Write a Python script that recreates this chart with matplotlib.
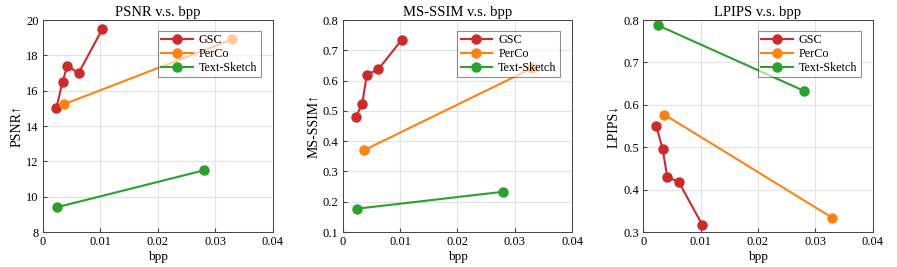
import numpy as np
import matplotlib
matplotlib.use('Agg')
import matplotlib.pyplot as plt

plt.rcParams['font.family'] = ['Liberation Serif', 'DejaVu Serif']

# dados
gsc_bpp = [0.0023, 0.0034, 0.0042, 0.0062, 0.0103]
gsc_psnr = [15.0, 16.5, 17.4, 17.0, 19.47]
gsc_msssim = [0.480, 0.523, 0.619, 0.637, 0.735]
gsc_lpips = [0.550, 0.495, 0.430, 0.418, 0.317]

perco_bpp = [0.0037, 0.0329]
perco_psnr = [15.24, 18.9]
perco_msssim = [0.370, 0.640]
perco_lpips = [0.577, 0.334]

ts_bpp = [0.0025, 0.0280]
ts_psnr = [9.41, 11.49]
ts_msssim = [0.177, 0.233]
ts_lpips = [0.788, 0.633]

metricas = ['PSNR', 'MS-SSIM', 'LPIPS']
ylabels = ['PSNR↑', 'MS-SSIM↑', 'LPIPS↓']
ylims = [(8, 20), (0.1, 0.8), (0.3, 0.8)]
yticks = [np.arange(8, 21, 2), np.arange(0.1, 0.81, 0.1), np.arange(0.3, 0.81, 0.1)]
yfmt = ['%d', '%.1f', '%.1f']

series = [
    ('GSC', '#cc2b2b', gsc_bpp, [gsc_psnr, gsc_msssim, gsc_lpips]),
    ('PerCo', '#ff8214', perco_bpp, [perco_psnr, perco_msssim, perco_lpips]),
    ('Text-Sketch', '#2ca02c', ts_bpp, [ts_psnr, ts_msssim, ts_lpips]),
]

fig = plt.figure(figsize=(8.97, 2.67), dpi=100)
lefts = [0.048, 0.382, 0.717]

for i in range(3):
    ax = fig.add_axes([lefts[i], 0.131, 0.256, 0.794])
    for nome, cor, xs, ys in series:
        ax.plot(xs, ys[i], '-o', color=cor, lw=1.5, ms=6.5, label=nome)
    ax.set_xlim(0, 0.04)
    ax.set_ylim(*ylims[i])
    ax.set_xticks([0, 0.01, 0.02, 0.03, 0.04])
    ax.set_xticklabels(['0', '0.01', '0.02', '0.03', '0.04'])
    ax.set_yticks(yticks[i])
    ax.set_yticklabels([yfmt[i] % v for v in yticks[i]])
    ax.tick_params(direction='in', labelsize=9, length=3, color='#444444', pad=3)
    ax.grid(True, color='#e3e3e3', lw=0.8)
    ax.set_axisbelow(True)
    for s in ax.spines.values():
        s.set_color('#444444')
        s.set_linewidth(0.7)
    ax.set_title(metricas[i] + ' v.s. bpp', fontsize=10.5, pad=3)
    ax.set_xlabel('bpp', fontsize=9.5, labelpad=2)
    ax.set_ylabel(ylabels[i], fontsize=10, labelpad=2)
    # legenda semi-transparente, como no original
    leg = ax.legend(loc='upper right', bbox_to_anchor=(0.948, 0.95), fontsize=8.7,
                    fancybox=False, edgecolor='#444444', framealpha=0.6,
                    handlelength=2.6, borderpad=0.3, labelspacing=0.15,
                    handletextpad=0.5, borderaxespad=0.0)
    leg.get_frame().set_linewidth(0.8)

fig.savefig('out.png', dpi=100)
